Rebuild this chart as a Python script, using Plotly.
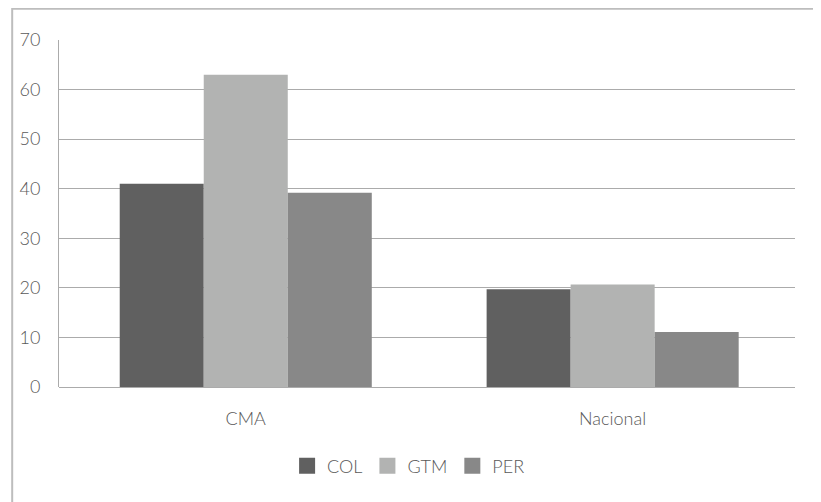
import plotly.graph_objects as go

# data
categories = ['CMA', 'Nacional']
col_vals = [41.0, 19.7]
gtm_vals = [63.0, 20.7]
per_vals = [39.2, 11.1]
tick_vals = [0, 10, 20, 30, 40, 50, 60, 70]

series = [('COL', col_vals, '#606060'),
          ('GTM', gtm_vals, '#b2b3b2'),
          ('PER', per_vals, '#888888')]

txt = dict(family='Lato', size=18, color='#595959', weight=300)

fig = go.Figure()
for name, vals, color in series:
    fig.add_trace(go.Bar(x=categories, y=vals, name=name, showlegend=False,
                         marker=dict(color=color, line=dict(width=0))))
    # legend entry with a bigger square swatch
    fig.add_trace(go.Scatter(x=[None], y=[None], mode='markers', name=name,
                             marker=dict(symbol='square', size=16, color=color)))

fig.update_layout(
    width=813, height=494,
    margin=dict(l=48, r=26, t=32, b=115),
    paper_bgcolor='white', plot_bgcolor='white',
    barmode='group', bargap=0.313, bargroupgap=0,
    font=txt,
    legend=dict(orientation='h', x=0.475, xanchor='center', y=-0.228, yanchor='middle',
                font=txt, itemwidth=30, itemclick=False),
)
fig.update_xaxes(range=[-0.509, 1.497], showgrid=False, showline=False,
                 ticks='', tickfont=txt, ticklabelstandoff=19)
fig.update_yaxes(range=[0, 70], tickvals=tick_vals, showgrid=True,
                 gridcolor='#ababab', gridwidth=1, zeroline=True,
                 zerolinecolor='#ababab', zerolinewidth=1,
                 showline=True, linecolor='#ababab', linewidth=1,
                 ticks='', tickfont=txt, ticklabelstandoff=14)

# outer frame of the chart area
fig.add_shape(type='rect', xref='paper', yref='paper',
              x0=-0.0636, x1=1.06, y0=-0.4, y1=1.09,
              line=dict(color='#bdbdbd', width=2), layer='below')

fig.write_html('out.html')
